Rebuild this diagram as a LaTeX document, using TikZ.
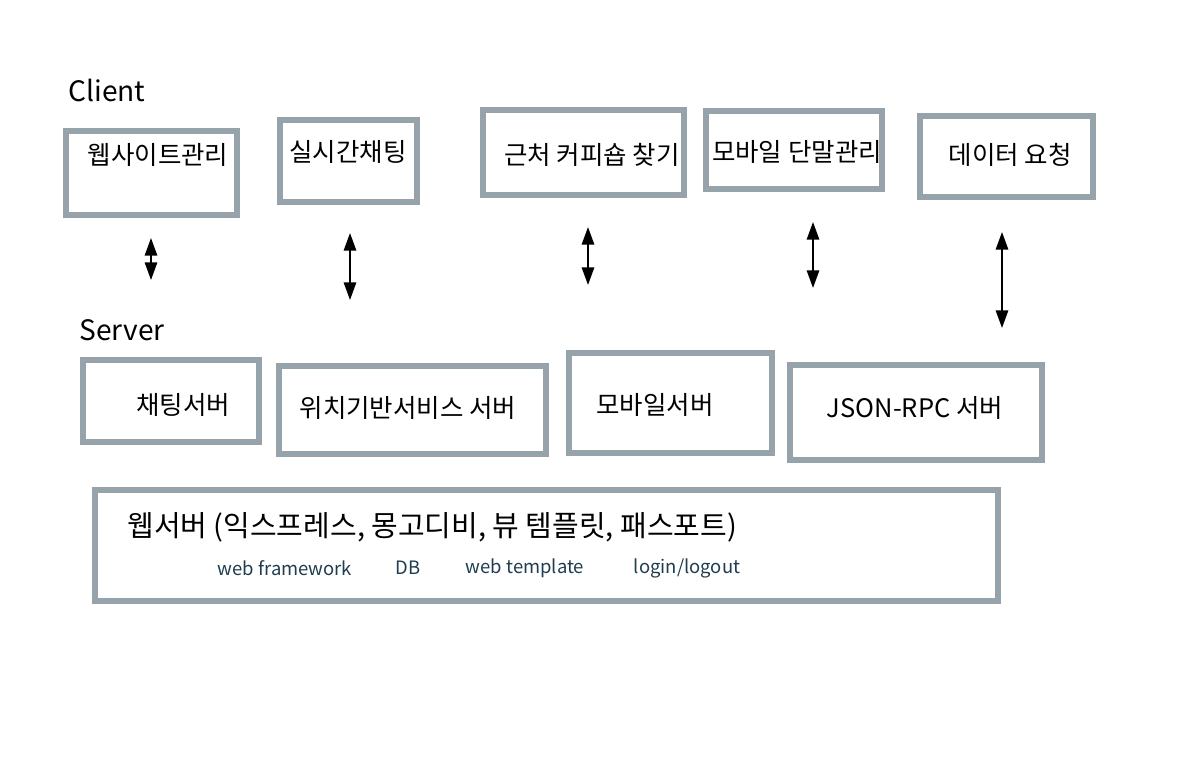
\documentclass[tikz,border=0pt]{standalone}
\usepackage{fontspec}
\setmainfont{Noto Sans CJK KR}
\usetikzlibrary{arrows.meta}
\definecolor{boxgray}{HTML}{97A3AB}
\definecolor{notecol}{HTML}{1F3D4F}
\tikzset{
  box/.style={draw=boxgray, line width=3.4pt, fill=white, inner sep=0pt},
  lbl/.style={inner sep=0pt, font=\fontsize{14.5}{16}\selectfont},
  note/.style={inner sep=0pt, text=notecol, font=\fontsize{10.5}{12}\selectfont},
  tier/.style={inner sep=0pt, font=\fontsize{16}{19}\selectfont},
  biarrow/.style={line width=1.1pt, {Triangle[length=10pt,width=7pt]}-{Triangle[length=10pt,width=7pt]}}
}
\begin{document}
\begin{tikzpicture}[x=0.02cm, y=-0.02cm]
\useasboundingbox (0,0) rectangle (1200,764);

% client side
\node[tier] (client) at (107,90) {Client};
\node[box, minimum width=3.42cm, minimum height=1.68cm] (site) at (151.5,173) {};
\node[box, minimum width=2.74cm, minimum height=1.64cm] (chat) at (348.5,161) {};
\node[box, minimum width=4.02cm, minimum height=1.70cm] (cafe) at (583.5,152.5) {};
\node[box, minimum width=3.52cm, minimum height=1.56cm] (mobile) at (794,150) {};
\node[box, minimum width=3.46cm, minimum height=1.62cm] (data) at (1006.5,156.5) {};
\node[lbl] (sitetxt) at (158,155) {웹사이트관리};
\node[lbl] (chattxt) at (348,152) {실시간채팅};
\node[lbl] (cafetxt) at (592,155) {근처 커피숍 찾기};
\node[lbl] (mobiletxt) at (797,152) {모바일 단말관리};
\node[lbl] (datatxt) at (1010,155) {데이터 요청};

% arrows between the tiers
\coordinate (a1t) at (151,238); \coordinate (a1b) at (151,280);
\coordinate (a2t) at (350,233); \coordinate (a2b) at (350,300);
\coordinate (a3t) at (588,227); \coordinate (a3b) at (588,285);
\coordinate (a4t) at (813,222); \coordinate (a4b) at (813,288);
\coordinate (a5t) at (1002,232); \coordinate (a5b) at (1002,328);
\draw[biarrow] (a1t) -- (a1b);
\draw[biarrow] (a2t) -- (a2b);
\draw[biarrow] (a3t) -- (a3b);
\draw[biarrow] (a4t) -- (a4b);
\draw[biarrow] (a5t) -- (a5b);

% server side
\node[tier] (server) at (122,330) {Server};
\node[box, minimum width=3.52cm, minimum height=1.64cm] (chatsrv) at (171,401) {};
\node[box, minimum width=5.34cm, minimum height=1.76cm] (locsrv) at (412.5,410) {};
\node[box, minimum width=4.06cm, minimum height=2.00cm] (mobsrv) at (670.5,403) {};
\node[box, minimum width=5.04cm, minimum height=1.90cm] (rpcsrv) at (916,412.5) {};
\node[lbl] (chatsrvtxt) at (183,405) {채팅서버};
\node[lbl] (locsrvtxt) at (408,408) {위치기반서비스 서버};
\node[lbl] (mobsrvtxt) at (655,405) {모바일서버};
\node[lbl] (rpcsrvtxt) at (915,408) {JSON-RPC 서버};

% web server
\node[box, minimum width=18.06cm, minimum height=2.22cm] (websrv) at (546.5,545.5) {};
\node[lbl, anchor=west, font=\fontsize{16.5}{18}\selectfont] (websrvtxt) at (127,527) {웹서버 (익스프레스, 몽고디비, 뷰 템플릿, 패스포트)};
\node[note] (n1) at (285,568) {web framework};
\node[note] (n2) at (408,568) {DB};
\node[note] (n3) at (525,568) {web template};
\node[note] (n4) at (687,568) {login/logout};
\end{tikzpicture}
\end{document}
